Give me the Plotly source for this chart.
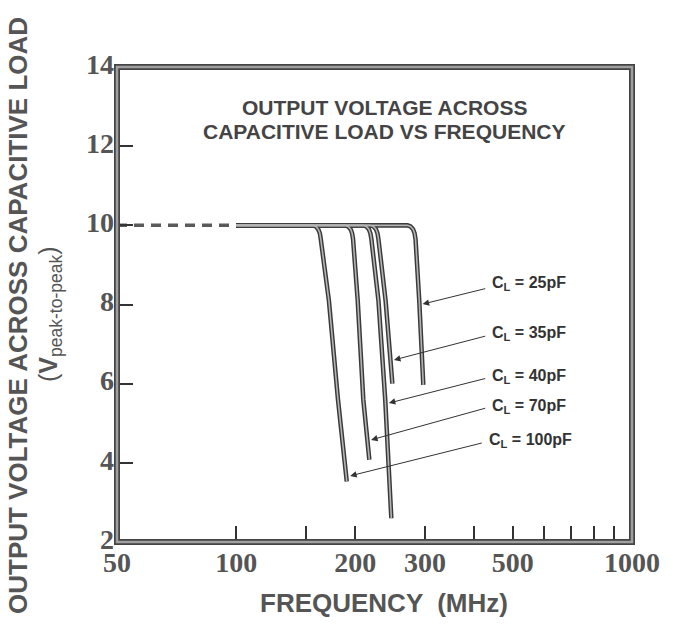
import numpy as np
import plotly.graph_objects as go

# ---- data ----
flat_dashed_f = [50, 100]
flat_dashed_v = [10, 10]
flat_solid_f = [100, 271]
flat_solid_v = [10, 10]

series_names = ["25pF", "35pF", "40pF", "70pF", "100pF"]
f_25 = [100, 270.9, 275.7, 279.8, 282.3, 283.9, 290.1, 297.0]
v_25 = [10, 10, 9.97, 9.9, 9.8, 9.65, 8.1, 5.97]
f_35 = [100, 218.3, 222.2, 225.5, 227.5, 228.8, 238.5, 248.1]
v_35 = [10, 10, 9.97, 9.9, 9.8, 9.65, 8.1, 6.0]
f_40 = [100, 209.5, 213.2, 216.4, 218.3, 219.6, 228.8, 238.0, 246.6]
v_40 = [10, 10, 9.97, 9.9, 9.8, 9.65, 8.1, 5.6, 2.6]
f_70 = [100, 188.4, 191.8, 194.6, 196.3, 197.4, 202.8, 209.5, 217.0]
v_70 = [10, 10, 9.97, 9.9, 9.8, 9.65, 8.1, 5.6, 4.08]
f_100 = [100, 156.1, 158.9, 161.2, 162.7, 163.6, 171.5, 180.8, 190.3]
v_100 = [10, 10, 9.97, 9.9, 9.8, 9.65, 8.1, 5.6, 3.53]

curves_f = [f_25, f_35, f_40, f_70, f_100]
curves_v = [v_25, v_35, v_40, v_70, v_100]

# label annotations: arrow tip (f, v), arrow tail (f, v), text anchor (f, v)
tip_f = [295.8, 250.4, 243.1, 219.2, 194.1]
tip_v = [8.01, 6.60, 5.51, 4.58, 3.67]
tail_f = [429.5, 429.5, 429.5, 429.5, 421.0]
tail_v = [8.41, 7.21, 6.14, 5.39, 4.51]
label_f = [437, 437, 437, 437, 430]
label_v = [8.52, 7.26, 6.18, 5.42, 4.56]

x_tickvals = [50, 100, 150, 200, 300, 400, 500, 600, 700, 800, 900, 1000]
x_ticktext = ["50", "100", "", "200", "300", "", "500", "", "", "", "", "1000"]
y_tickvals = [2, 4, 6, 8, 10, 12, 14]

# page geometry (body margin removed in the page, see post_script)
W, H = 673, 632
PL, PR, PT, PB = 117, 632, 67, 542          # plot box in page pixels
ML, MT = PL, PT
MR, MB = W - PR, H - PB


def px_x(x):
    return (x - PL) / (PR - PL)


def px_y(y):
    return 1 - (y - PT) / (PB - PT)


fig = go.Figure()

fig.add_trace(go.Scatter(x=flat_dashed_f, y=flat_dashed_v, mode="lines",
                         line=dict(color="#5a5a5a", width=3.5, dash="10px,7px"),
                         hoverinfo="skip", showlegend=False))
for fx, vy in zip(curves_f, curves_v):
    fig.add_trace(go.Scatter(x=fx, y=vy, mode="lines",
                             line=dict(color="#3a3a3a", width=4.5),
                             hoverinfo="skip", showlegend=False))
fig.add_trace(go.Scatter(x=flat_solid_f, y=flat_solid_v, mode="lines",
                         line=dict(color="#3a3a3a", width=4.5),
                         hoverinfo="skip", showlegend=False))
for fx, vy, nm in zip(curves_f, curves_v, series_names):
    fig.add_trace(go.Scatter(x=fx, y=vy, mode="lines", name=nm,
                             line=dict(color="#b4b4b4", width=1.6),
                             showlegend=False))

anns = []
for tf, tv, af, av, lf, lv, nm in zip(tip_f, tip_v, tail_f, tail_v, label_f, label_v, series_names):
    anns.append(dict(x=np.log10(tf), y=tv, ax=np.log10(af), ay=av,
                     xref="x", yref="y", axref="x", ayref="y", text="",
                     showarrow=True, arrowhead=2, arrowsize=1.3, arrowwidth=1,
                     arrowcolor="#333"))
    anns.append(dict(x=np.log10(lf), y=lv, xref="x", yref="y", showarrow=False,
                     xanchor="left", yanchor="middle",
                     text="C<sub>L</sub> = " + nm,
                     font=dict(family="Liberation Sans", size=16, color="#333",
                               weight="bold")))

title_font = dict(family="Liberation Sans", size=21, color="#444", weight="bold")
anns.append(dict(x=px_x(384), y=px_y(107), xref="paper", yref="paper",
                 text="OUTPUT VOLTAGE ACROSS", showarrow=False, font=title_font,
                 xanchor="center", yanchor="middle"))
anns.append(dict(x=px_x(384), y=px_y(131.5), xref="paper", yref="paper",
                 text="CAPACITIVE LOAD VS FREQUENCY", showarrow=False, font=title_font,
                 xanchor="center", yanchor="middle"))

axis_title_font = dict(family="Liberation Sans", size=26, color="#555", weight="bold")
anns.append(dict(x=px_x(383.7), y=px_y(603), xref="paper", yref="paper",
                 text="FREQUENCY  (MHz)",
                 showarrow=False, font=axis_title_font, xanchor="center", yanchor="middle"))
anns.append(dict(x=px_x(18), y=px_y(316), xref="paper", yref="paper",
                 text="OUTPUT VOLTAGE ACROSS CAPACITIVE LOAD", textangle=-90,
                 showarrow=False, font=axis_title_font, xanchor="center", yanchor="middle"))
anns.append(dict(x=px_x(50), y=px_y(314), xref="paper", yref="paper",
                 text="(<b>V</b><sub>peak-to-peak</sub>)", textangle=-90,
                 showarrow=False, font=dict(family="Liberation Sans", size=25, color="#555"),
                 xanchor="center", yanchor="middle"))

tick_font = dict(family="Liberation Serif", size=28, color="#555", weight="bold")
fig.update_layout(
    width=W, height=H,
    margin=dict(l=ML, r=MR, t=MT, b=MB, pad=0, autoexpand=False),
    paper_bgcolor="white", plot_bgcolor="white",
    xaxis=dict(type="log", range=[np.log10(50), np.log10(1000)],
               tickvals=x_tickvals, ticktext=x_ticktext,
               ticks="inside", ticklen=16, tickwidth=1.5, tickcolor="#333",
               showgrid=False, zeroline=False, showline=False,
               tickfont=tick_font, automargin=False, ticklabelstandoff=1),
    yaxis=dict(range=[2, 14], tickvals=y_tickvals,
               ticks="inside", ticklen=16, tickwidth=1.5, tickcolor="#333",
               showgrid=False, zeroline=False, showline=False,
               tickfont=tick_font, automargin=False, ticklabelstandoff=2,
               ticklabelshift=-3),
    annotations=anns,
    shapes=[
        dict(type="rect", xref="paper", yref="paper", x0=0, y0=0, x1=1, y1=1,
             line=dict(color="#444", width=6), layer="above"),
        dict(type="rect", xref="paper", yref="paper", x0=0, y0=0, x1=1, y1=1,
             line=dict(color="#a0a0a0", width=2.5), layer="above"),
    ],
)

fig.write_html("out.html", config={"displayModeBar": False},
               post_script="document.body.style.margin='0px';document.body.style.overflow='hidden';")
